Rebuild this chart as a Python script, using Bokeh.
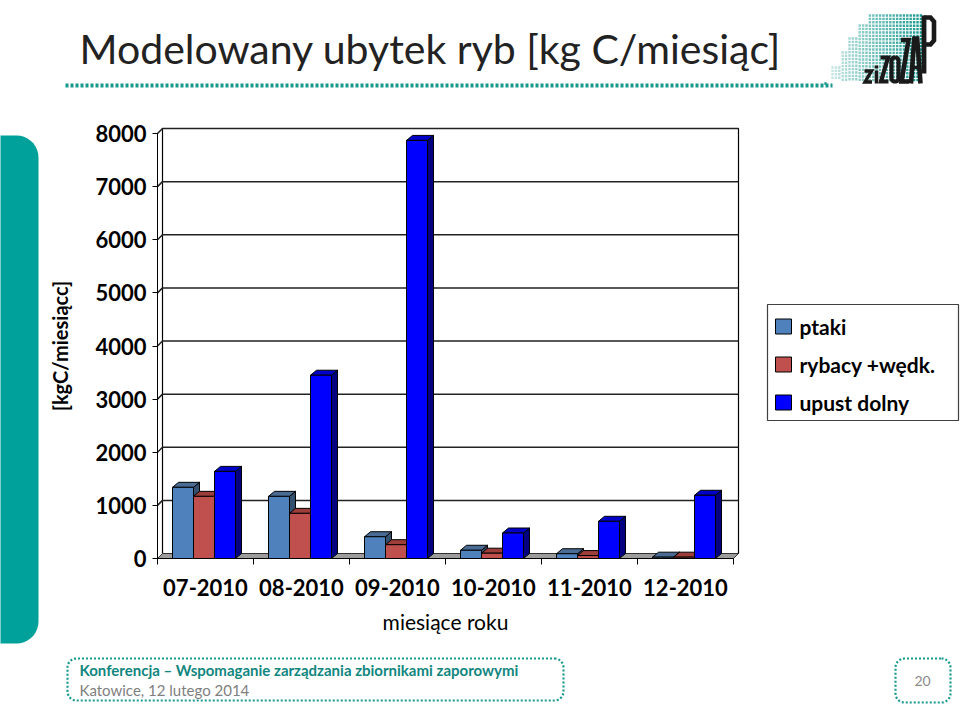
import numpy as np
from bokeh.plotting import figure
from bokeh.models import Range1d, LinearAxis, FixedTicker
from bokeh.core.properties import value
from bokeh.embed import file_html
from bokeh.resources import INLINE

# ---------------- data ----------------
title_text = "Modelowany ubytek ryb [kg C/miesiąc]"
months = ["07-2010", "08-2010", "09-2010", "10-2010", "11-2010", "12-2010"]
series_names = ["ptaki", "rybacy +wędk.", "upust dolny"]
ptaki = [1340, 1170, 410, 155, 90, 25]
rybacy = [1170, 850, 260, 100, 55, 25]
upust = [1640, 3450, 7870, 480, 700, 1190]
y_ticks = [0, 1000, 2000, 3000, 4000, 5000, 6000, 7000, 8000]
y_label = "[kgC/miesiącc]"
x_label = "miesiące roku"
footer_line1 = "Konferencja – Wspomaganie zarządzania zbiornikami zaporowymi"
footer_line2 = "Katowice, 12 lutego 2014"
page_number = "20"

front_colors = ["#4F81BD", "#C0504D", "#0000FF"]
top_colors = ["#4A6C94", "#9E3E3B", "#0000C8"]
side_colors = ["#34506F", "#7A2E2C", "#000080"]

# ---------------- layout constants ----------------
W, H = 960, 705
X0 = 157          # left edge of first category (px)
CAT_W = 96        # category width (px)
Y0 = 558          # value 0 (px)
K = 425 / 8000    # px per value unit
FONT = "Lato"
TEAL = "#00A19B"
TEAL_DOT = "#18998F"
TEAL_TXT = "#11867F"
INK = "#1a1a1a"

p = figure(width=W, height=H, x_range=Range1d(0, W), y_range=Range1d(H, 0),
           x_axis_type=None, y_axis_type=None, toolbar_location=None,
           output_backend="svg", min_border=0, outline_line_color=None,
           background_fill_color="white", border_fill_color="white")
p.extra_x_ranges = {"num": Range1d(-X0 / CAT_W - 0.5, (W - X0) / CAT_W - 0.5)}
p.extra_y_ranges = {"val": Range1d((Y0 - H) / K, Y0 / K)}

# depth offsets (data units)
DXW, DYW = 5 / CAT_W, 5 / K      # walls
DX, DY = 6 / CAT_W, 5 / K        # bars
ncat = len(months)
ymax = y_ticks[-1]
ch = dict(x_range_name="num", y_range_name="val")

# ---------------- decorations ----------------
def rounded_rect(x0, y0, x1, y1, r, n=10):
    xs, ys = [], []
    for cx, cy, a0, a1 in [(x1 - r, y0 + r, -90, 0), (x1 - r, y1 - r, 0, 90),
                           (x0 + r, y1 - r, 90, 180), (x0 + r, y0 + r, 180, 270)]:
        for a in np.linspace(np.radians(a0), np.radians(a1), n):
            xs.append(cx + r * np.cos(a))
            ys.append(cy + r * np.sin(a))
    return xs, ys

# teal side band
bx, by = rounded_rect(-40, 135, 38, 643, 22)
p.patch(bx, by, fill_color=TEAL, line_color=None)

# title
p.text(x=[79], y=[48], text=[title_text], text_font=value(FONT), text_font_size="41px",
       text_color="#222222", text_baseline="middle", text_align="left")
# dotted rule
p.segment(x0=[65], y0=[85], x1=[832], y1=[85], line_color=TEAL_DOT, line_width=4,
          line_dash="3 2")

# logo: halftone dots
dx_list, dy_list, da_list = [], [], []
steps = [(832, 67), (840, 52), (847, 38), (857, 25), (867, 15)]
for gx in np.arange(832, 921, 3.4):
    top = None
    for sx, sy in steps:
        if gx >= sx:
            top = sy
    for gy in np.arange(top, 80, 3.4):
        dx_list.append(gx)
        dy_list.append(gy)
        da_list.append(0.25 + 0.75 * (gx - 832) / 88)
dx_list.append(825); dy_list.append(83); da_list.append(1.0)
p.scatter(x=dx_list, y=dy_list, marker="square", size=2.4, fill_color=TEAL_DOT,
          line_color=None, fill_alpha=da_list)

# logo: condensed letter strokes  z i Z O Z A P
def ov(x0, y0, x1, y1):
    xs, ys = rounded_rect(x0, y0, x1, y1, (x1 - x0) / 2.2, n=8)
    return xs + [xs[0]], ys + [ys[0]]

logo_x, logo_y, logo_w = [], [], []
def add(xs, ys, w):
    logo_x.append(xs); logo_y.append(ys); logo_w.append(w)

add([864, 871, 864.5, 871.5], [70.5, 70.5, 81.5, 81.5], 3.4)    # z
add([876, 876], [70, 83], 3.6)                                 # i
add([876, 876], [65, 68], 3.6)
add([880, 887.5, 880.5, 888], [57, 57, 81, 81], 4.2)            # Z
ox, oy = ov(891, 57, 898, 81)                                  # O
add(ox, oy, 4.2)
add([900.5, 908, 901, 908.5], [39.5, 39.5, 81, 81], 4.6)        # Z
add([910.5, 913.8, 916.7, 920], [83, 38, 38, 83], 4.6)          # A
add([912.3, 918.3], [67, 67], 3.6)
add([923.5, 923.5], [73, 15], 4.8)                              # P stem
add([923.5, 930, 933.5, 933.5, 930, 923.5], [17, 17, 21, 40, 44, 44], 4.6)
for xs, ys, w in zip(logo_x, logo_y, logo_w):
    p.line(xs, ys, line_color=INK, line_width=w, line_join="miter")

# footer
fx, fy = rounded_rect(67, 658, 563, 700, 9)
p.patch(fx, fy, fill_color=None, line_color=TEAL_DOT, line_width=2.2, line_dash="2 2")
p.text(x=[79], y=[669], text=[footer_line1], text_font=value(FONT), text_font_size="15px",
       text_font_style="bold", text_color=TEAL_TXT, text_baseline="middle")
p.text(x=[79], y=[689], text=[footer_line2], text_font=value(FONT), text_font_size="15px",
       text_color="#808080", text_baseline="middle")
gx_, gy_ = rounded_rect(895, 658, 950, 702, 9)
p.patch(gx_, gy_, fill_color=None, line_color=TEAL_DOT, line_width=2.2, line_dash="2 2")
p.text(x=[922], y=[680], text=[page_number], text_font=value(FONT), text_font_size="14px",
       text_color="#8a8a8a", text_baseline="middle", text_align="center")

# ---------------- 3D chart frame ----------------
L, R = -0.5, ncat - 0.5
# left wall
p.patch([L, L + DXW, L + DXW, L], [0, DYW, ymax + DYW, ymax], fill_color="white",
        line_color="black", line_width=1, **ch)
# back wall
p.patch([L + DXW, R + DXW, R + DXW, L + DXW], [DYW, DYW, ymax + DYW, ymax + DYW],
        fill_color="white", line_color="black", line_width=1.2, **ch)
# gridlines (side + back)
gxs, gys = [], []
for t in y_ticks[1:]:
    gxs.append([L, L + DXW, R + DXW])
    gys.append([t, t + DYW, t + DYW])
p.multi_line(gxs, gys, line_color="#222222", line_width=1.5, **ch)
# floor
p.patch([L, R, R + DXW, L + DXW], [0, 0, DYW, DYW], fill_color="#9C9C9C",
        line_color="#303030", line_width=1, **ch)

# ---------------- bars ----------------
GAP = 15 / CAT_W
BW = 21 / CAT_W
for k, vals in enumerate([ptaki, rybacy, upust]):
    lefts = [i - 0.5 + GAP + k * BW for i in range(ncat)]
    rights = [l + BW for l in lefts]
    top_xs = [[l, r, r + DX, l + DX] for l, r in zip(lefts, rights)]
    top_ys = [[v, v, v + DY, v + DY] for v in vals]
    side_xs = [[r, r + DX, r + DX, r] for r in rights]
    side_ys = [[0, DY, v + DY, v] for v in vals]
    p.patches(side_xs, side_ys, fill_color=side_colors[k], line_color="black",
              line_width=1, **ch)
    p.patches(top_xs, top_ys, fill_color=top_colors[k], line_color="black",
              line_width=1, **ch)
    p.quad(left=lefts, right=rights, bottom=[0] * ncat, top=vals,
           fill_color=front_colors[k], line_color="black", line_width=1, **ch)

# ---------------- axes ----------------
yaxis = LinearAxis(y_range_name="val", fixed_location=X0, bounds=(0, ymax),
                   ticker=FixedTicker(ticks=y_ticks, minor_ticks=[]),
                   axis_label=y_label)
yaxis.axis_line_color = "black"
yaxis.major_tick_out = 5
yaxis.major_tick_in = 0
yaxis.minor_tick_line_color = None
yaxis.major_label_standoff = 6
yaxis.major_label_text_font = FONT
yaxis.major_label_text_font_size = "22px"
yaxis.major_label_text_font_style = "bold"
yaxis.major_label_text_color = "black"
yaxis.axis_label_text_font = FONT
yaxis.axis_label_text_font_size = "20px"
yaxis.axis_label_text_font_style = "bold"
yaxis.axis_label_text_color = "black"
yaxis.axis_label_standoff = 20
p.add_layout(yaxis, "left")

xaxis = LinearAxis(x_range_name="num", y_range_name="val", fixed_location=0,
                   bounds=(L, R),
                   ticker=FixedTicker(ticks=list(range(ncat)),
                                      minor_ticks=[i - 0.5 for i in range(ncat + 1)]),
                   major_label_overrides={i: m for i, m in enumerate(months)},
                   axis_label=x_label)
xaxis.axis_line_color = "black"
xaxis.major_tick_out = 0
xaxis.major_tick_in = 0
xaxis.minor_tick_out = 6
xaxis.minor_tick_in = 0
xaxis.minor_tick_line_color = "black"
xaxis.major_label_standoff = 14
xaxis.major_label_text_font = FONT
xaxis.major_label_text_font_size = "22px"
xaxis.major_label_text_font_style = "bold"
xaxis.major_label_text_color = "black"
xaxis.axis_label_text_font = FONT
xaxis.axis_label_text_font_size = "21px"
xaxis.axis_label_text_font_style = "normal"
xaxis.axis_label_text_color = "black"
xaxis.axis_label_standoff = 10
p.add_layout(xaxis, "below")

# ---------------- legend ----------------
leg_y = [326, 364, 402]
p.quad(left=[767], right=[958], top=[304], bottom=[420], fill_color="white",
       line_color="#404040", line_width=1.2)
p.rect(x=[783] * 3, y=leg_y, width=16, height=15, fill_color=front_colors,
       line_color="black", line_width=1)
p.text(x=[799] * 3, y=leg_y, text=series_names, text_font=value(FONT),
       text_font_size="21px", text_font_style="bold", text_color="black",
       text_baseline="middle", text_align="left")

open("out.html", "w").write(file_html(p, INLINE))
